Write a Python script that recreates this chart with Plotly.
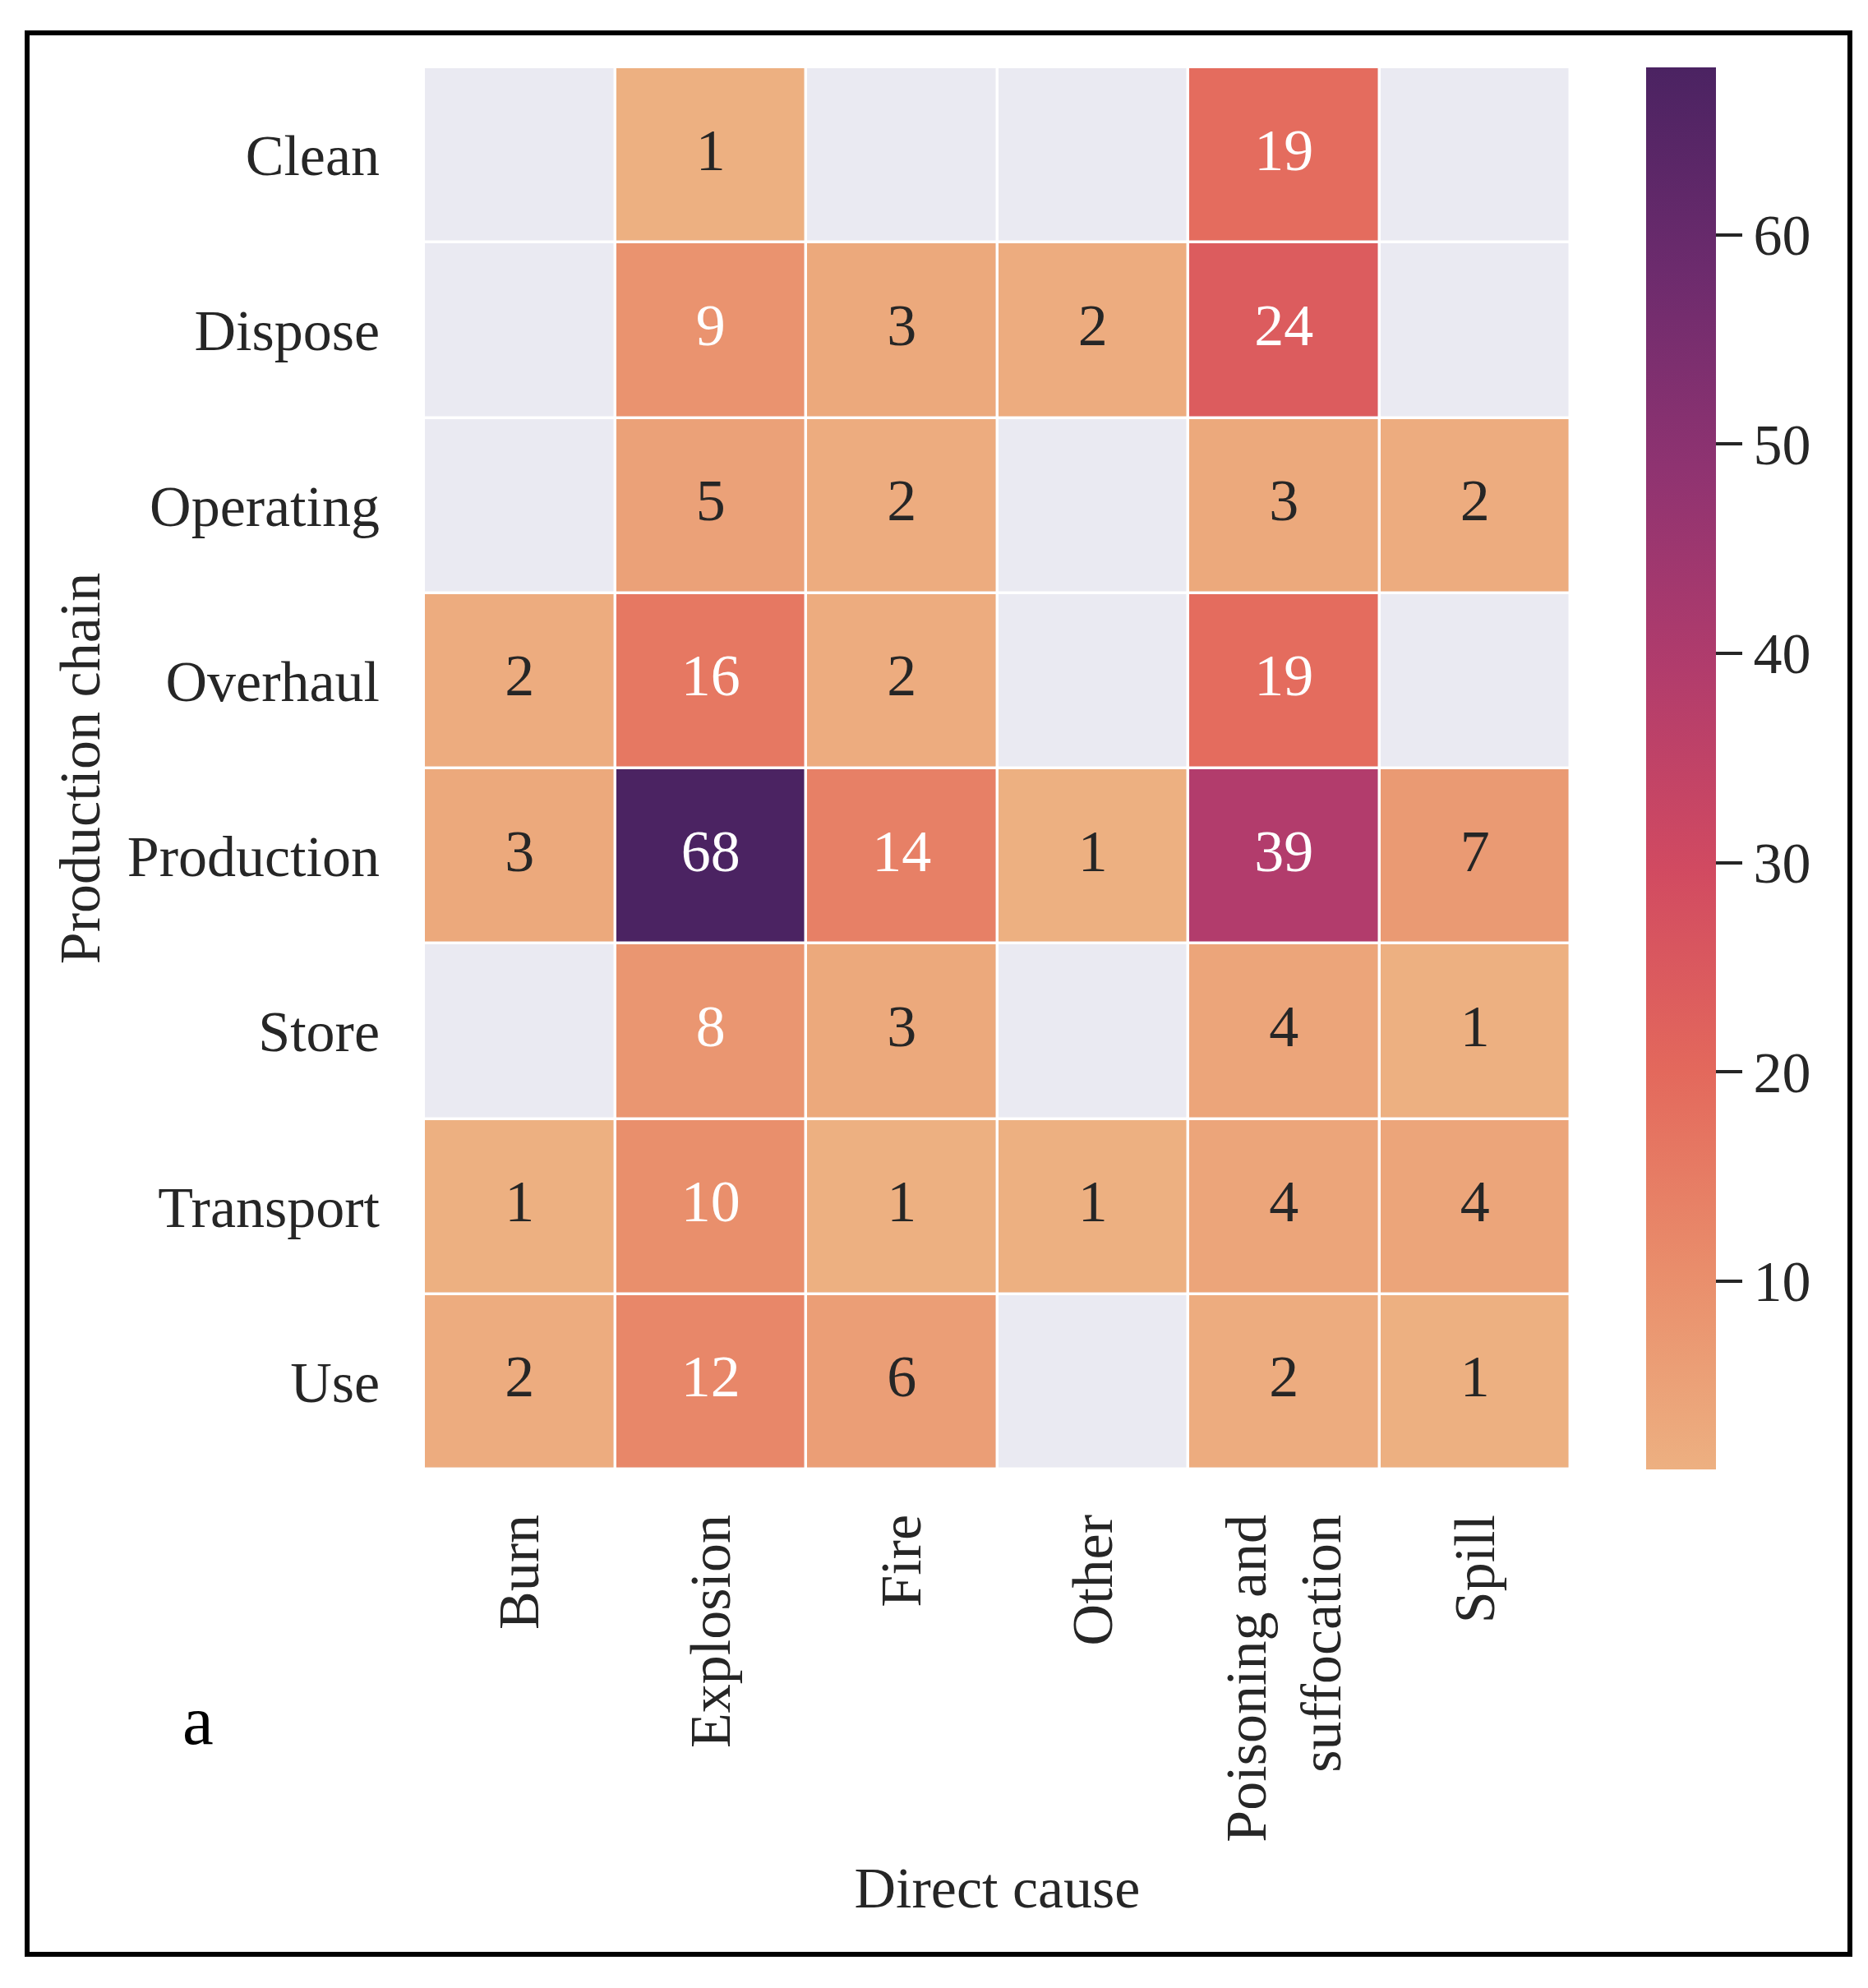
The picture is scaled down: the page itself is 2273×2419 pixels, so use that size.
import numpy as np
import plotly.graph_objects as go

# ---------------- data ----------------
causes = ["Burn", "Explosion", "Fire", "Other", "Poisoning and suffocation", "Spill"]
cause_ticktext = ["Burn", "Explosion", "Fire", "Other", "Poisoning and<br>suffocation", "Spill"]
chains = ["Clean", "Dispose", "Operating", "Overhaul", "Production", "Store", "Transport", "Use"]

NA = None
clean      = [NA, 1, NA, NA, 19, NA]
dispose    = [NA, 9, 3, 2, 24, NA]
operating  = [NA, 5, 2, NA, 3, 2]
overhaul   = [2, 16, 2, NA, 19, NA]
production = [3, 68, 14, 1, 39, 7]
store      = [NA, 8, 3, NA, 4, 1]
transport  = [1, 10, 1, 1, 4, 4]
use        = [2, 12, 6, NA, 2, 1]

colorbar_ticks = [10, 20, 30, 40, 50, 60]

rows = [clean, dispose, operating, overhaul, production, store, transport, use]
Z = np.array([[np.nan if v is None else float(v) for v in r] for r in rows])
zmin, zmax = np.nanmin(Z), np.nanmax(Z)

# seaborn "flare" colormap (approximation)
flare_hex = ["#edb081", "#e98d6b", "#e3685c", "#d14a61", "#b13c6c", "#8f3371", "#6c2b6d", "#4b2362"]
flare_pos = np.linspace(0, 1, len(flare_hex))
colorscale = [[float(p), c] for p, c in zip(flare_pos, flare_hex)]


def hex2rgb(h):
    h = h.lstrip("#")
    return np.array([int(h[i:i + 2], 16) for i in (0, 2, 4)], dtype=float)


flare_rgb = np.array([hex2rgb(h) for h in flare_hex])


def cmap(t):
    return np.array([np.interp(t, flare_pos, flare_rgb[:, k]) for k in range(3)])


def rel_lum(rgb):
    c = rgb / 255.0
    c = np.where(c <= 0.03928, c / 12.92, ((c + 0.055) / 1.055) ** 2.4)
    return 0.2126 * c[0] + 0.7152 * c[1] + 0.0722 * c[2]


# ---------------- layout geometry (page pixels) ----------------
OFF = 8                      # default page body margin
W, H = 2273 - OFF, 2419 - OFF
PL, PR, PT, PB = 516, 1911, 82, 1788   # plot area in page pixels
pw, ph = PR - PL, PB - PT


def px(x):
    return (x - PL) / pw


def py(y):
    return (PB - y) / ph


FONT = "Liberation Serif, Times New Roman, serif"
TXT = "#262626"

fig = go.Figure()

# background (missing-value colour) cells
fig.add_trace(go.Heatmap(
    x=causes, y=chains, z=np.ones_like(Z),
    colorscale=[[0, "#EAEAF2"], [1, "#EAEAF2"]],
    showscale=False, xgap=3.5, ygap=3.5, hoverinfo="skip",
))

# data cells
fig.add_trace(go.Heatmap(
    x=causes, y=chains, z=Z, zmin=zmin, zmax=zmax,
    colorscale=colorscale, xgap=3.5, ygap=3.5,
    colorbar=dict(
        thickness=85, len=1, lenmode="fraction", y=0.5, yanchor="middle",
        x=px(2003), xanchor="left", xpad=0, ypad=0, outlinewidth=0,
        ticks="outside", ticklen=32, tickwidth=4, tickcolor=TXT,
        tickvals=colorbar_ticks, tickfont=dict(family=FONT, size=70, color=TXT),
    ),
))

# annotations in cells (seaborn luminance rule for text colour)
tx, ty, tt, tc = [], [], [], []
for i, ch in enumerate(chains):
    for j, ca in enumerate(causes):
        v = Z[i, j]
        if np.isnan(v):
            continue
        rgb = cmap((v - zmin) / (zmax - zmin))
        tx.append(ca)
        ty.append(ch)
        tt.append(str(int(v)))
        tc.append("#FFFFFF" if rel_lum(rgb) < 0.408 else TXT)

fig.add_trace(go.Scatter(
    x=tx, y=ty, text=tt, mode="text", hoverinfo="skip", showlegend=False,
    textfont=dict(family=FONT, size=72, color=tc),
))

fig.update_xaxes(
    tickvals=causes, ticktext=cause_ticktext, tickangle=-90,
    showgrid=False, zeroline=False, showline=False, ticks="",
    ticklabelstandoff=40,
    tickfont=dict(family=FONT, size=70, color=TXT),
    title=dict(text="Direct cause", font=dict(family=FONT, size=70, color=TXT), standoff=31),
)
fig.update_yaxes(
    autorange="reversed",
    showgrid=False, zeroline=False, showline=False, ticks="",
    ticklabelstandoff=53,
    tickfont=dict(family=FONT, size=70, color=TXT),
    title=dict(text="Production chain", font=dict(family=FONT, size=70, color=TXT), standoff=10),
)

fig.add_annotation(
    text="a", xref="paper", yref="paper", x=px(241), y=py(2093),
    xanchor="center", yanchor="middle", showarrow=False,
    font=dict(family=FONT, size=85, color="#000000"),
)

# outer frame
fig.add_shape(
    type="rect", xref="paper", yref="paper",
    x0=px(33), x1=px(2251), y0=py(2378), y1=py(40),
    line=dict(color="#000000", width=6), fillcolor="rgba(0,0,0,0)", layer="above",
)

fig.update_layout(
    width=W, height=H,
    margin=dict(l=PL - OFF, r=W - (PR - OFF), t=PT - OFF, b=H - (PB - OFF), autoexpand=False),
    paper_bgcolor="#FFFFFF", plot_bgcolor="#FFFFFF",
    font=dict(family=FONT, color=TXT),
    showlegend=False,
)

fig.write_html("out.html")
